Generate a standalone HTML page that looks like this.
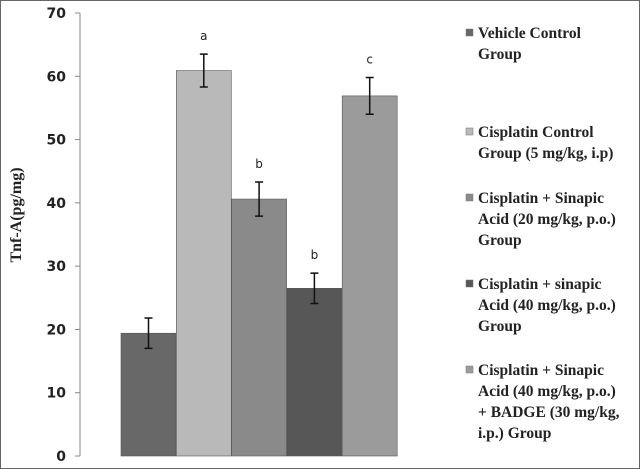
<!DOCTYPE html>
<html><head><meta charset="utf-8"><style>
body{margin:0;background:#fff}
svg{display:block}
.tk{font-family:"DejaVu Sans","Liberation Sans",sans-serif;font-weight:bold;font-size:14px;fill:#222}
.lg{font-family:"Liberation Serif",serif;font-weight:bold;font-size:15.5px;fill:#222}
.sig{font-family:"DejaVu Sans","Liberation Sans",sans-serif;font-size:12px;fill:#222}
</style></head><body>
<svg id="chart" width="640" height="469">
<rect x="0.5" y="0.5" width="639" height="468" fill="#fff" stroke="#666"/>
<g id="axis"></g><g id="bars"></g><g id="legend"></g>
<text transform="translate(21,215) rotate(-90)" text-anchor="middle" style="font-family:'Liberation Serif',serif;font-weight:bold;font-size:16px;fill:#222">Tnf-A(pg/mg)</text>
</svg>
<script>
const categories=["Vehicle Control Group","Cisplatin Control Group (5 mg/kg, i.p)","Cisplatin + Sinapic Acid (20 mg/kg, p.o.) Group","Cisplatin + sinapic Acid (40 mg/kg, p.o.) Group","Cisplatin + Sinapic Acid (40 mg/kg, p.o.) + BADGE (30 mg/kg, i.p.) Group"];
const values=[19.4,60.9,40.6,26.5,56.9];
const errors=[2.4,2.6,2.7,2.4,2.9];
const sigLabels=["","a","b","b","c"];
const yTicks=[0,10,20,30,40,50,60,70];
const NS="http://www.w3.org/2000/svg";
const y0=456,yTop=13,yMax=70;
const Y=v=>y0-(v/yMax)*(y0-yTop);
const X=i=>121+i*55.3;
const bw=55;
const colors=["#686868","#b9b9b9","#8a8a8a","#575757","#9b9b9b"];
function mk(t,a,p){const e=document.createElementNS(NS,t);for(const k in a)e.setAttribute(k,a[k]);p.appendChild(e);return e;}
const ax=document.getElementById('axis');
const al=mk('line',{x1:80,y1:Y(70),x2:80,y2:y0,stroke:'#888'},ax);


yTicks.forEach(t=>{
 const l=mk('line',{x1:75,x2:80,y1:Y(t),y2:Y(t),stroke:'#888'},ax);
 
 
 const tx=mk('text',{x:66,y:Y(t)+5,'text-anchor':'end',class:'tk'},ax);tx.textContent=t;
 
 
});
const bg=document.getElementById('bars');
values.forEach((v,i)=>{
 const r=mk('rect',{x:X(i),y:Y(v),width:bw,height:y0-Y(v),fill:colors[i],stroke:'#555','stroke-width':0.6},bg);
 
 
 const cx=X(i)+bw/2,e=errors[i];
 const eb=mk('path',{d:`M${cx},${Y(v+e)}V${Y(v-e)}M${cx-4},${Y(v+e)}H${cx+4}M${cx-4},${Y(v-e)}H${cx+4}`,stroke:'#111','stroke-width':1.5,fill:'none'},bg);
 
 
 if(sigLabels[i]){const s=mk('text',{x:cx,y:Y(v+e)-14,'text-anchor':'middle',class:'sig'},bg);s.textContent=sigLabels[i];
 
 }
});
const lines=[["Vehicle Control","Group"],["Cisplatin Control","Group (5 mg/kg, i.p)"],["Cisplatin + Sinapic","Acid (20 mg/kg, p.o.)","Group"],["Cisplatin + sinapic","Acid (40 mg/kg, p.o.)","Group"],["Cisplatin + Sinapic","Acid (40 mg/kg, p.o.)","+ BADGE (30 mg/kg,","i.p.) Group"]];
const starts=[33,132,198,284,370];
const lg=document.getElementById('legend');
lines.forEach((ls,i)=>{
 const g=mk('g',{},lg);
 
 
 mk('rect',{x:466,y:starts[i]-4,width:7,height:7,fill:colors[i],stroke:'#777','stroke-width':0.5},g);
 ls.forEach((t,j)=>{const tx=mk('text',{x:478,y:starts[i]+5+j*21,class:'lg'},g);tx.textContent=t;});
});
</script>
</body></html>
